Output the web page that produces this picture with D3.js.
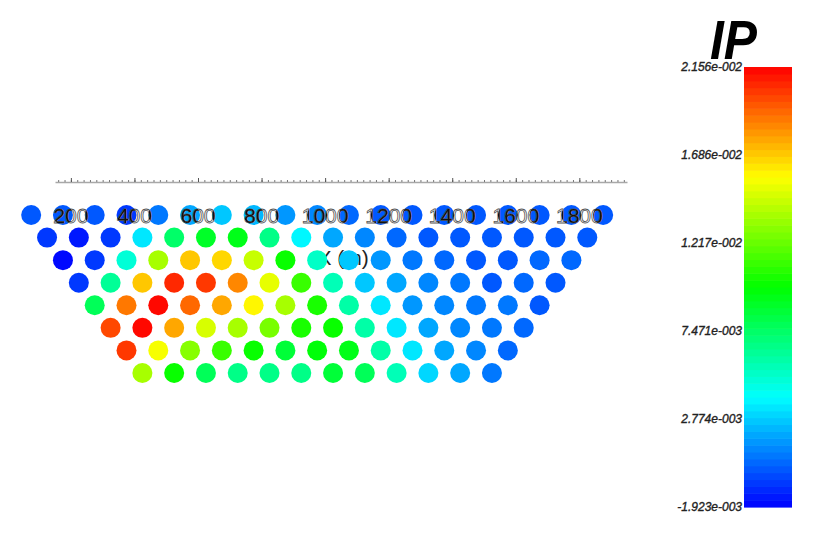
<!DOCTYPE html>
<html><head><meta charset="utf-8">
<script src="https://cdn.jsdelivr.net/npm/d3@7/dist/d3.min.js"></script>
<style>body{margin:0;background:#fff}svg{display:block}</style></head>
<body><svg id="c" width="818" height="543"></svg>
<script>
const title = "IP";
const xTickValues = [200, 400, 600, 800, 1000, 1200, 1400, 1600, 1800];
const xTickLabels = ["200", "400", "600", "800", "1000", "1200", "1400", "1600", "1800"];
const xLabel = "X (m)";
const cbTickValues = [0.02156, 0.01686, 0.01217, 0.007471, 0.002774, -0.001923];
const cbTickLabels = ["2.156e-002", "1.686e-002", "1.217e-002", "7.471e-003", "2.774e-003", "-1.923e-003"];
const vMin = -0.001923, vMax = 0.02156;
const firstPos = 75, spacing = 100;   // m, position of first dot on level 1
const level1 = [-0.00004,-0.00004,-0.00004,-0.00051,0.00101,0.00207,0.00254,0.00230,0.00160,0.00113,0.00043,0.00019,0.00019,0.00019,0.00019,0.00019,0.00019,0.00019,0.00019];
const level2 = [-0.00051,-0.00145,-0.00051,0.00324,0.00747,0.00888,0.00911,0.00688,0.00371,0.00183,0.00113,0.00043,0.00019,0.00019,0.00019,0.00019,0.00019,0.00019];
const level3 = [-0.00192,-0.00075,0.00500,0.01381,0.01686,0.01663,0.01428,0.00982,0.00536,0.00254,0.00160,0.00090,0.00043,0.00019,0.00019,0.00043,0.00043];
const level4 = [-0.00051,0.00630,0.01686,0.02062,0.02015,0.01851,0.01498,0.01099,0.00559,0.00277,0.00183,0.00113,0.00066,0.00019,0.00043,0.00019];
const level5 = [0.00794,0.01898,0.02156,0.01935,0.01757,0.01569,0.01357,0.01029,0.00606,0.00324,0.00160,0.00113,0.00101,0.00090,0.00019];
const level6 = [0.01991,0.02121,0.01780,0.01475,0.01357,0.01240,0.01052,0.00982,0.00606,0.00324,0.00183,0.00113,0.00090,0.00043];
const level7 = [0.02015,0.01545,0.01287,0.01099,0.00982,0.00864,0.00958,0.00911,0.00606,0.00348,0.00183,0.00113,0.00043];
const level8 = [0.01357,0.00982,0.00771,0.00653,0.00653,0.00677,0.00841,0.00794,0.00559,0.00301,0.00183,0.00090];
const levels = [level1, level2, level3, level4, level5, level6, level7, level8];

const nBands = 64;
const svg = d3.select("#c");
const x = d3.scaleLinear().domain([150, 1950]).range([55, 627]);
const y = d3.scaleLinear().domain([1, 8]).range([215, 373]);
const tScale = d3.scaleLinear().domain([vMin, vMax]).range([0, 1]).clamp(true);
function color(v) {
  let t = tScale(v);
  let k = Math.min(nBands - 1, Math.floor(t * nBands));
  let tq = (k + 0.5) / nBands;
  return d3.hsl(240 * (1 - tq), 1, 0.5).formatHex();
}

const dots = [];
levels.forEach((arr, li) => arr.forEach((v, i) => dots.push({lev: li + 1, pos: firstPos + spacing * i + spacing / 2 * li, v})));

// axis
const minor = d3.range(160, 1950, 20);
svg.append("g").attr("transform", "translate(0,182)")
  .call(d3.axisBottom(x).tickValues(minor).tickSizeInner(-2).tickSizeOuter(0).tickFormat(""))
  .call(g => { g.select(".domain").attr("stroke", "#a8a8a8").attr("stroke-width", 1.6);
               g.selectAll(".tick line").attr("stroke", "#777"); });
svg.append("g").attr("transform", "translate(0,182)")
  .call(d3.axisBottom(x).tickValues(xTickValues).tickSizeInner(-4).tickSizeOuter(0).tickFormat(""))
  .call(g => { g.select(".domain").remove(); g.selectAll(".tick line").attr("stroke", "#555"); });

// x label behind dots
svg.append("text").attr("x", x(1000) + 18).attr("y", y(3) - 3).attr("text-anchor", "middle")
  .attr("dominant-baseline", "central").attr("font-family", "Liberation Sans, Arial, sans-serif")
  .attr("font-size", 21).attr("fill", "#222").text(xLabel);

// dots
svg.append("defs").append("clipPath").attr("id", "dotclip").selectAll("circle").data(dots).join("circle")
  .attr("cx", d => x(d.pos)).attr("cy", d => y(d.lev)).attr("r", 10);
svg.append("g").selectAll("circle").data(dots).join("circle")
  .attr("cx", d => x(d.pos)).attr("cy", d => y(d.lev)).attr("r", 10).attr("fill", d => color(d.v));

// tick labels: hollow everywhere, solid where on dots
const lab = (g) => g.selectAll("text").data(xTickValues).join("text")
  .attr("x", d => x(d)).attr("y", y(1)).attr("text-anchor", "middle").attr("dominant-baseline", "central")
  .attr("font-family", "Liberation Sans, Arial, sans-serif").attr("font-size", 21)
  .text((d, i) => xTickLabels[i]);
svg.append("g").call(lab).attr("fill", "#fff").attr("stroke", "#555").attr("stroke-width", 0.8);
svg.append("g").attr("clip-path", "url(#dotclip)").call(lab).attr("fill", "#111");

// colorbar
const cb = d3.scaleLinear().domain([vMin, vMax]).range([507, 67]);
const bands = d3.range(nBands);
const bh = (507 - 67) / nBands;
svg.append("g").selectAll("rect").data(bands).join("rect")
  .attr("x", 744).attr("width", 48)
  .attr("y", k => cb(vMin + (k + 1) / nBands * (vMax - vMin)))
  .attr("height", bh + 0.6)
  .attr("fill", k => d3.hsl(240 * (1 - (k + 0.5) / nBands), 1, 0.5).formatHex());
svg.append("g").selectAll("text").data(cbTickValues).join("text")
  .attr("x", 742).attr("y", d => cb(d)).attr("text-anchor", "end")
  .attr("dominant-baseline", "central").attr("font-family", "Liberation Sans, Arial, sans-serif")
  .attr("font-size", 12).attr("font-style", "italic").attr("fill", "#222")
  .attr("stroke", "#222").attr("stroke-width", 0.35)
  .text((d, i) => cbTickLabels[i]);

svg.append("text").attr("x", 710).attr("y", 59).attr("font-family", "Liberation Sans, Arial, sans-serif")
  .attr("font-size", 56).attr("font-weight", "bold").attr("font-style", "italic").attr("fill", "#000")
  .attr("textLength", 47).attr("lengthAdjust", "spacingAndGlyphs").text(title);
</script></body></html>
